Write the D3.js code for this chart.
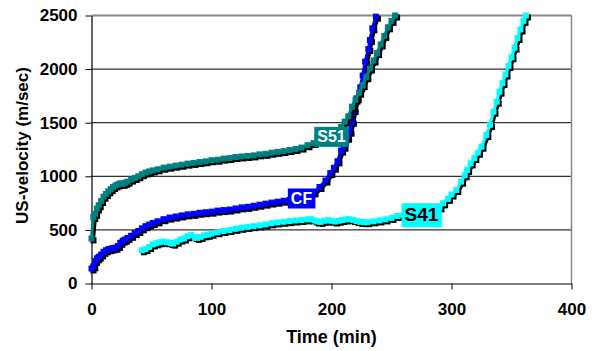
<!DOCTYPE html>
<html>
<head>
<meta charset="utf-8">
<script src="https://cdn.jsdelivr.net/npm/d3@7"></script>
<style>
  body { margin: 0; background: #fff; }
  svg { display: block; font-family: "Liberation Sans", Arial, sans-serif; font-weight: bold; }
</style>
</head>
<body>
<div id="chart"></div>
<script>
// time (min) / US-velocity (m/sec)
const s51Time = [0,1.5,3,4.5,6,8,10,12,14,16,18,20,22,24,26,28,30,33,36,39,42,45,48,51,55,60,65,70,75,80,85,90,95,100,105,110,115,120,125,130,135,140,145,150,155,160,165,170,175,180,185,190,195,200,204,208,211,214,217,220,223,226,229,232,235,238,241,244,247,250,253];
const s51Vel  = [420,620,650,700,730,770,810,835,860,880,900,915,925,935,930,940,950,970,985,1000,1020,1035,1045,1055,1065,1080,1090,1100,1108,1118,1125,1133,1140,1150,1155,1165,1170,1180,1185,1190,1195,1205,1210,1220,1228,1235,1245,1255,1268,1290,1310,1330,1350,1375,1410,1460,1510,1560,1650,1715,1780,1850,1925,2005,2080,2150,2230,2310,2390,2450,2500];

const cfTime = [0,1.5,3,4.5,6,8,10,12,14,16,18,20,22,24,26,28,30,33,36,39,42,45,48,51,55,60,65,70,75,80,85,90,95,100,105,110,115,120,125,130,135,140,145,150,155,160,165,170,175,180,185,190,195,199,202,205,208,210,213,215,217,218.5,221,224,226,228,230.7,232,234,237];
const cfVel  = [140,160,210,235,250,270,295,310,320,325,330,335,350,380,400,410,425,445,470,490,515,535,550,565,580,600,615,625,635,645,650,660,665,670,680,685,690,700,710,715,725,735,745,755,763,772,780,790,800,820,850,900,960,1030,1080,1140,1240,1276,1360,1416,1509,1618,1728,1830,1940,2069,2188,2271,2380,2489];

const s41Time = [42,45,48,51,54,57,60,63,66,68,71,74,77,80,83,86,88,91,94,97,100,105,110,115,120,125,130,135,140,145,150,155,160,165,170,175,180,183,186,188,191,194,197,200,203,206,209,212,215,218,221,224,227,230,235,240,245,250,255,260,265,270,275,280,285,290,293,297,300,304,308,311,313,316,319,322,325,329,332,335,337.7,340,342.5,345,347.5,350,352.5,355,357.5,360,362];
const s41Vel  = [310,320,340,365,375,385,390,385,378,372,390,410,420,440,452,435,425,435,450,455,465,478,490,499,510,520,528,535,542,550,562,570,576,582,588,592,598,600,588,578,575,585,590,585,578,585,592,598,600,592,582,575,572,572,580,588,598,612,630,640,645,645,645,650,670,710,748,790,830,872,950,1010,1059,1120,1170,1220,1276,1385,1479,1603,1696,1790,1870,1950,2030,2110,2200,2290,2370,2450,2500];

const seriesNames  = ["S41", "CF", "S51"];
const seriesColors = ["#00ffff", "#0000ff", "#008080"];
const labelTimes   = [275, 175, 200];   // data point that carries the label

const xTicks = [0, 100, 200, 300, 400];
const yTicks = [0, 500, 1000, 1500, 2000, 2500];

const width = 597, height = 351;
const svg = d3.select("#chart").append("svg")
  .attr("width", width).attr("height", height);

const x = d3.scaleLinear().domain([0, 400]).range([91.5, 571.5]);
const y = d3.scaleLinear().domain([0, 2500]).range([283.5, 15.5]);

// grid + frame
svg.append("g").selectAll("line")
  .data(yTicks.filter(v => v > 0 && v < 2500))
  .join("line")
  .attr("x1", x(0)).attr("x2", x(400))
  .attr("y1", d => y(d)).attr("y2", d => y(d))
  .attr("stroke", "#333").attr("stroke-width", 1.2);
svg.append("line")
  .attr("x1", x(0)).attr("x2", x(400)).attr("y1", y(2500)).attr("y2", y(2500))
  .attr("stroke", "#888").attr("stroke-width", 2);
svg.append("line")
  .attr("x1", x(400)).attr("x2", x(400)).attr("y1", y(2500)).attr("y2", y(0))
  .attr("stroke", "#888").attr("stroke-width", 1.5);

// axes
const xAxis = svg.append("g")
  .attr("transform", `translate(0,${y(0)})`)
  .call(d3.axisBottom(x).tickValues(xTicks).tickSize(6).tickPadding(13).tickSizeOuter(0));
const yAxis = svg.append("g")
  .attr("transform", `translate(${x(0)},0)`)
  .call(d3.axisLeft(y).tickValues(yTicks).tickFormat(d3.format("d"))
    .tickSize(6).tickPadding(8).tickSizeOuter(0));
[xAxis, yAxis].forEach(a => {
  a.select(".domain").attr("stroke", "#000").attr("stroke-width", 1.2);
  a.selectAll(".tick line").attr("stroke", "#000");
  a.selectAll("text").attr("font-size", 17).attr("font-family", null).attr("fill", "#000");
});

svg.append("text")
  .attr("x", (x(0) + x(400)) / 2 + 0).attr("y", 343)
  .attr("text-anchor", "middle").attr("font-size", 18)
  .text("Time (min)");
svg.append("text")
  .attr("transform", `translate(28,${(y(0) + y(2500)) / 2 - 4}) rotate(-90)`)
  .attr("text-anchor", "middle").attr("font-size", 17)
  .text("US-velocity (m/sec)");

// series
const allTimes = [s41Time, cfTime, s51Time];
const allVels = [s41Vel, cfVel, s51Vel];
const line = d3.line().x(d => x(d.t)).y(d => y(d.v));
const ms = 6;

const series = seriesNames.map((name, i) => ({
  name,
  color: seriesColors[i],
  pts: allTimes[i].map((t, j) => ({ t, v: allVels[i][j] })),
  labelTime: labelTimes[i]
}));

series.forEach(s => {
  [["#000", 2, 2], [s.color, 0, 0]].forEach(([c, dx, dy]) => {
    const g = svg.append("g").attr("transform", `translate(${dx},${dy})`);
    g.append("path").datum(s.pts)
      .attr("d", line).attr("fill", "none")
      .attr("stroke", c).attr("stroke-width", 3);
    g.selectAll("rect").data(s.pts).join("rect")
      .attr("x", d => x(d.t) - ms / 2).attr("y", d => y(d.v) - ms / 2)
      .attr("width", ms).attr("height", ms)
      .attr("fill", c);
  });
});

// data labels
series.forEach(s => {
  const p = s.pts.find(d => d.t === s.labelTime);
  const big = s.name === "S41";
  const g = svg.append("g").attr("transform", `translate(${x(p.t)},${y(p.v)})`);
  const t = g.append("text")
    .attr("text-anchor", "middle").attr("dy", "0.36em")
    .attr("font-size", big ? 19 : 16)
    .attr("fill", big ? "#000" : "#fff")
    .text(s.name);
  const bb = t.node().getBBox();
  g.insert("rect", "text")
    .attr("x", bb.x - 3).attr("y", bb.y - 1)
    .attr("width", bb.width + 6).attr("height", bb.height + 3)
    .attr("fill", s.color);
});
</script>
</body>
</html>
